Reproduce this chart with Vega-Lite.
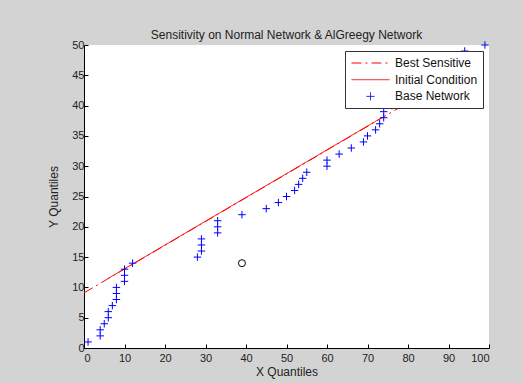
{
  "$schema": "https://vega.github.io/schema/vega-lite/v6.json",
  "width": 405,
  "height": 303,
  "autosize": {"type": "none"},
  "padding": {"left": 84, "top": 45, "right": 34, "bottom": 35},
  "background": "#d3d3d3",
  "title": {"text": "Sensitivity on Normal Network & AlGreegy Network", "fontSize": 12, "fontWeight": "normal", "color": "#222222", "font": "Liberation Sans", "offset": -3, "anchor": "middle"},
  "config": {
    "view": {"fill": "white", "stroke": null},
    "font": "Liberation Sans",
    "axis": {
      "domainColor": "#000000",
      "tickColor": "#000000",
      "tickSize": -4,
      "labelFont": "Liberation Sans",
      "labelFontSize": 11,
      "labelColor": "#222222",
      "titleFont": "Liberation Sans",
      "titleFontSize": 12,
      "titleFontWeight": "normal",
      "titleColor": "#222222",
      "grid": false,
      "labelOverlap": false
    },
    "legend": {
      "orient": "top-right",
      "offset": 6,
      "fillColor": "white",
      "strokeColor": "#333333",
      "padding": 5,
      "symbolSize": 169,
      "symbolStrokeWidth": 1,
      "labelFont": "Liberation Sans",
      "labelFontSize": 12,
      "labelColor": "#111111",
      "labelOffset": 31,
      "rowPadding": 3.7
    }
  },
  "datasets": {
    "lines": [
      {"series": "Best Sensitive", "x": 0, "y": 9.1},
      {"series": "Best Sensitive", "x": 80, "y": 40.5},
      {"series": "Initial Condition", "x": 6, "y": 11.5},
      {"series": "Initial Condition", "x": 73.5, "y": 38.0}
    ],
    "points": [
      {"series": "Base Network", "x": 1, "y": 1},
      {"series": "Base Network", "x": 4, "y": 2},
      {"series": "Base Network", "x": 4, "y": 3},
      {"series": "Base Network", "x": 5, "y": 4},
      {"series": "Base Network", "x": 6, "y": 5},
      {"series": "Base Network", "x": 6, "y": 6},
      {"series": "Base Network", "x": 7, "y": 7},
      {"series": "Base Network", "x": 8, "y": 8},
      {"series": "Base Network", "x": 8, "y": 9},
      {"series": "Base Network", "x": 8, "y": 10},
      {"series": "Base Network", "x": 10, "y": 11},
      {"series": "Base Network", "x": 10, "y": 12},
      {"series": "Base Network", "x": 10, "y": 13},
      {"series": "Base Network", "x": 12, "y": 14},
      {"series": "Base Network", "x": 28, "y": 15},
      {"series": "Base Network", "x": 29, "y": 16},
      {"series": "Base Network", "x": 29, "y": 17},
      {"series": "Base Network", "x": 29, "y": 18},
      {"series": "Base Network", "x": 33, "y": 19},
      {"series": "Base Network", "x": 33, "y": 20},
      {"series": "Base Network", "x": 33, "y": 21},
      {"series": "Base Network", "x": 39, "y": 22},
      {"series": "Base Network", "x": 45, "y": 23},
      {"series": "Base Network", "x": 48, "y": 24},
      {"series": "Base Network", "x": 50, "y": 25},
      {"series": "Base Network", "x": 52, "y": 26},
      {"series": "Base Network", "x": 53, "y": 27},
      {"series": "Base Network", "x": 54, "y": 28},
      {"series": "Base Network", "x": 55, "y": 29},
      {"series": "Base Network", "x": 60, "y": 30},
      {"series": "Base Network", "x": 60, "y": 31},
      {"series": "Base Network", "x": 63, "y": 32},
      {"series": "Base Network", "x": 66, "y": 33},
      {"series": "Base Network", "x": 69, "y": 34},
      {"series": "Base Network", "x": 70, "y": 35},
      {"series": "Base Network", "x": 72, "y": 36},
      {"series": "Base Network", "x": 73, "y": 37},
      {"series": "Base Network", "x": 74, "y": 38},
      {"series": "Base Network", "x": 74, "y": 39},
      {"series": "Base Network", "x": 76, "y": 40},
      {"series": "Base Network", "x": 94, "y": 49},
      {"series": "Base Network", "x": 99, "y": 50}
    ],
    "marker": [
      {"x": 39, "y": 14}
    ]
  },
  "layer": [
    {
      "data": {"name": "lines"},
      "mark": {"type": "line", "strokeWidth": 1},
      "encoding": {
        "x": {"field": "x", "type": "quantitative", "scale": {"domain": [0, 100], "nice": false}, "axis": {"title": "X Quantiles", "values": [0, 10, 20, 30, 40, 50, 60, 70, 80, 90, 100], "labelPadding": 8, "titlePadding": 3, "labelOverlap": false}},
        "y": {"field": "y", "type": "quantitative", "scale": {"domain": [0, 50], "nice": false}, "axis": {"title": "Y Quantiles", "values": [0, 5, 10, 15, 20, 25, 30, 35, 40, 45, 50], "tickCount": 11, "labelOverlap": false, "labelPadding": 4, "titlePadding": 11}},
        "color": {
          "field": "series", "type": "nominal",
          "scale": {"domain": ["Best Sensitive", "Initial Condition", "Base Network"], "range": ["#ff0000", "#ff0000", "#0000ff"]},
          "legend": {
            "title": null,
            "encode": {
              "symbols": {
                "update": {
                  "shape": {"signal": "datum.value === 'Base Network' ? 'M1.46,0L2.69,0M2.077,-0.615L2.077,0.615' : 'M-0.85,0L5,0'"},
                  "strokeDash": {"signal": "datum.value === 'Best Sensitive' ? [10,4,2,4] : [1,0]"},
                  "fill": {"value": "transparent"},
                  "strokeWidth": {"value": 1}
                }
              }
            }
          }
        },
        "strokeDash": {
          "field": "series", "type": "nominal",
          "scale": {"domain": ["Best Sensitive", "Initial Condition"], "range": [[10, 4, 2, 4], [1, 0]]},
          "legend": null
        }
      }
    },
    {
      "data": {"name": "points"},
      "mark": {"type": "point", "shape": "M-1,0L1,0M0,-1L0,1", "filled": false, "size": 56, "strokeWidth": 1, "opacity": 1},
      "encoding": {
        "x": {"field": "x", "type": "quantitative"},
        "y": {"field": "y", "type": "quantitative"},
        "color": {"field": "series", "type": "nominal"}
      }
    },
    {
      "data": {"name": "marker"},
      "mark": {"type": "point", "shape": "circle", "filled": false, "size": 49, "strokeWidth": 1, "color": "#000000", "opacity": 1},
      "encoding": {
        "x": {"field": "x", "type": "quantitative"},
        "y": {"field": "y", "type": "quantitative"}
      }
    }
  ]
}
